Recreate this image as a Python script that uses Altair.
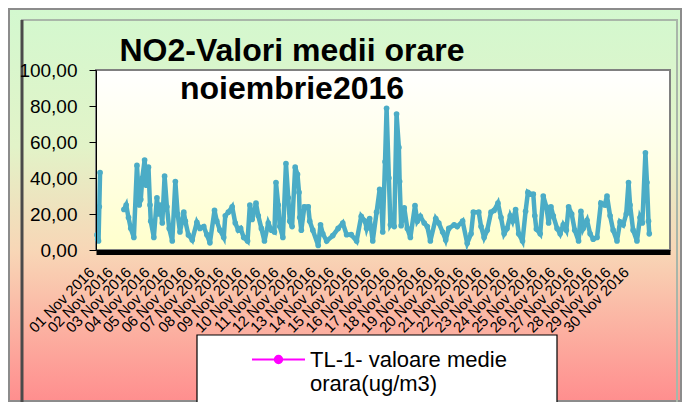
import altair as alt
import pandas as pd

# ---------------- data ----------------
hours = [0, 1, 2, 3, 4,
         35, 38, 41, 44, 48, 52, 55, 57, 59, 62, 64, 67, 69, 70, 74, 78, 80, 82, 85, 88,
         91, 94, 98, 102, 105, 108, 113, 115, 119, 124, 130, 134, 139, 143, 147, 153,
         156, 160, 165, 167, 171, 176, 180, 184, 187, 191, 196, 199, 202, 207, 210, 214,
         218, 223, 227, 231, 233, 236, 238, 242, 246, 249, 251, 254, 258, 261, 263, 264,
         266, 270, 275, 277, 281, 288, 291, 294, 299, 307, 314, 320, 325, 331, 338, 344,
         349, 351, 355, 359, 364, 368, 370, 372, 375, 377, 380, 382, 385, 387, 390, 393,
         394, 396, 400, 404, 408, 414, 417, 421, 426, 430, 434, 441, 445, 450, 454, 458,
         465, 469, 476, 482, 487, 490, 497, 500, 504, 508, 513, 517, 522, 526, 530, 534,
         538, 541, 545, 549, 554, 558, 561, 564, 568, 570, 572, 577, 581, 585, 588, 591,
         594, 599, 603, 607, 611, 614, 618, 622, 627, 630, 633, 638, 642, 646, 651, 656,
         661, 664, 668, 672, 677, 681, 685, 689, 692, 694, 698, 703, 707, 710, 714, 716,
         718, 719]
no2 = [8.4, 6, 5, 24, 43,
       22.5, 25, 18, 12, 7, 47, 25, 28, 40, 50, 36, 46, 25, 16, 7, 29, 20, 25, 15, 41,
       24, 12, 5, 38, 20, 10, 21, 16, 8.4, 5.6, 15.4, 12, 13, 8.5, 4, 22,
       16, 11, 7, 19, 21, 24, 15, 11, 12, 7, 5, 25, 17, 26, 19, 12,
       5, 15, 11, 10, 37.5, 25, 13, 7, 48, 29, 16, 13, 46, 42, 32, 18,
       11, 24, 24, 16, 11, 2.5, 14, 9, 5, 8, 12, 15, 8.5, 8.5, 5, 18.7,
       16, 12, 17.5, 5, 21, 33.7, 29, 10, 49, 78.7, 40, 14, 16, 13, 75.5, 57,
       38, 13.5, 23.4, 12, 7, 24.7, 16, 18.7, 15, 13, 5, 17.5, 15, 10, 5.6, 12,
       14, 13, 16, 3.7, 9, 21, 21, 13, 7, 11, 21, 22, 26, 18, 9, 12,
       19, 16, 22.5, 9, 5, 21.5, 32, 31, 31, 19, 11.6, 9, 30, 24, 15, 24,
       19, 12, 9, 14, 11, 24, 20, 11, 5, 21.5, 12, 16.5, 9, 6, 7, 26,
       25, 30, 19, 11, 5, 15.6, 14, 20, 37.5, 25, 11, 5, 18, 15, 54, 37.5,
       16, 9]

tick_hours = [0, 24, 48, 72, 96, 120, 144, 168, 192, 216, 240, 264, 288, 312, 336,
              360, 384, 408, 432, 456, 480, 504, 528, 552, 576, 600, 624, 648, 672, 696]
day_labels = ["01 Nov 2016", "02 Nov 2016", "03 Nov 2016", "04 Nov 2016", "05 Nov 2016",
              "06 Nov 2016", "07 Nov 2016", "08 Nov 2016", "09 Nov 2016", "10 Nov 2016",
              "11 Nov 2016", "12 Nov 2016", "13 Nov 2016", "14 Nov 2016", "15 Nov 2016",
              "16 Nov 2016", "17 Nov 2016", "18 Nov 2016", "19 Nov 2016", "20 Nov 2016",
              "21 Nov 2016", "22 Nov 2016", "23 Nov 2016", "24 Nov 2016", "25 Nov 2016",
              "26 Nov 2016", "27 Nov 2016", "28 Nov 2016", "29 Nov 2016", "30 Nov 2016"]
y_ticks = [0, 20, 40, 60, 80, 100]
title_lines = ["NO2-Valori medii orare", "noiembrie2016"]
series_lines = ["TL-1- valoare medie", "orara(ug/m3)"]
series_name = " ".join(series_lines)

# ---------------- build ----------------
df = pd.DataFrame({"h": hours, "v": no2})
df["seg"] = [0 if h < 20 else 1 for h in hours]
one = pd.DataFrame({"k": [0]})

W, H = 574, 180
PAD = {"left": 88, "top": 62, "right": 12, "bottom": 152}

outer_grad = alt.LinearGradient(
    gradient="linear", x1=0, x2=0, y1=0, y2=1,
    stops=[alt.GradientStop(color="#d3f8cf", offset=0),
           alt.GradientStop(color="#e2f3c8", offset=0.35),
           alt.GradientStop(color="#f8d6b6", offset=0.62),
           alt.GradientStop(color="#ff8e8e", offset=1)])
plot_grad = alt.LinearGradient(
    gradient="linear", x1=0, x2=0, y1=0, y2=1,
    stops=[alt.GradientStop(color="#ffffff", offset=0),
           alt.GradientStop(color="#ffffcc", offset=1)])

# chart frame / panels (decoration)
bg = alt.Chart(one).mark_rect(fill=outer_grad, stroke="#8c8c8c", strokeWidth=2).encode(
    x=alt.value(-87), x2=alt.value(585), y=alt.value(-61), y2=alt.value(331))
inner = alt.Chart(one).mark_rect(fillOpacity=0, stroke="#a9b6a9", strokeWidth=2).encode(
    x=alt.value(-74), x2=alt.value(581), y=alt.value(-50), y2=alt.value(345))
leftline = alt.Chart(one).mark_rule(color="#4a4a4a", strokeWidth=3).encode(
    x=alt.value(-74), y=alt.value(-50), y2=alt.value(345))
plotrect = alt.Chart(one).mark_rect(fill=plot_grad, stroke="#808080", strokeWidth=2).encode(
    x=alt.value(0), x2=alt.value(W), y=alt.value(0), y2=alt.value(H))
legend_box = alt.Chart(one).mark_rect(fill="white", stroke="black", strokeWidth=1.2).encode(
    x=alt.value(101), x2=alt.value(461), y=alt.value(265), y2=alt.value(345))

label_expr_x = "%s[round(datum.value/24)]" % str(day_labels).replace('"', "'")

x_enc = alt.X("h:Q",
              scale=alt.Scale(domain=[-1.3, 746], nice=False, zero=False),
              axis=alt.Axis(values=tick_hours, labelExpr=label_expr_x, labelAngle=-45,
                            labelAlign="right", labelBaseline="bottom",
                            labelFont="Liberation Sans", labelFontSize=15, labelColor="black",
                            domainColor="black", domainWidth=5, ticks=False, grid=False,
                            title=None, offset=2, labelPadding=23, zindex=1,
                            labelOverlap=False, labelFlush=False))
y_enc = alt.Y("v:Q",
              scale=alt.Scale(domain=[0, 100], nice=False),
              axis=alt.Axis(values=y_ticks,
                            labelExpr="replace(format(datum.value, '.2f'), '.', ',')",
                            labelFont="Liberation Sans", labelFontSize=19, labelColor="black",
                            tickColor="black", tickSize=7, domainColor="black", grid=False,
                            title=None, labelPadding=12, zindex=1, labelOverlap=False,
                            labelFlush=False))

line = alt.Chart(df).mark_line(
    color="#4bacc6", strokeWidth=4.5,
    point=alt.OverlayMarkDef(filled=True, size=32, color="#4bacc6")
).encode(x=x_enc, y=y_enc, detail="seg:N")

sym_path = "M-2,0L2,0M0.28,0A0.28,0.28,0,1,1,-0.28,0A0.28,0.28,0,1,1,0.28,0Z"
label_expr_leg = "['%s', '%s']" % (series_lines[0], series_lines[1])

legend_layer = alt.Chart(df).transform_calculate(
    series="'" + series_name + "'"
).transform_filter("false").mark_line().encode(
    x=x_enc, y=y_enc,
    color=alt.Color("series:N",
                    scale=alt.Scale(domain=[series_name], range=["#ff00ff"]),
                    legend=alt.Legend(orient="none", legendX=101, legendY=265, title=None,
                                      padding=10,
                                      symbolType=sym_path, symbolSize=702,
                                      symbolStrokeWidth=2, symbolFillColor="#ff00ff",
                                      symbolOffset=57, labelOffset=17,
                                      labelFont="Liberation Sans", labelFontSize=22,
                                      labelColor="black", labelLimit=500,
                                      labelExpr=label_expr_leg))
)

chart = alt.layer(bg, inner, leftline, plotrect, legend_box, line, legend_layer).properties(
    width=W, height=H, padding=PAD,
    autosize=alt.AutoSizeParams(type="none"),
    background="white",
    title=alt.TitleParams(text=title_lines, font="Liberation Sans", fontSize=32,
                          fontWeight="bold", color="black", anchor="middle", frame="group",
                          dx=-91, dy=123, offset=0, baseline="alphabetic", lineHeight=38)
).configure_view(stroke="transparent")

chart.save("out.html", embed_options={"renderer": "svg", "actions": False})
